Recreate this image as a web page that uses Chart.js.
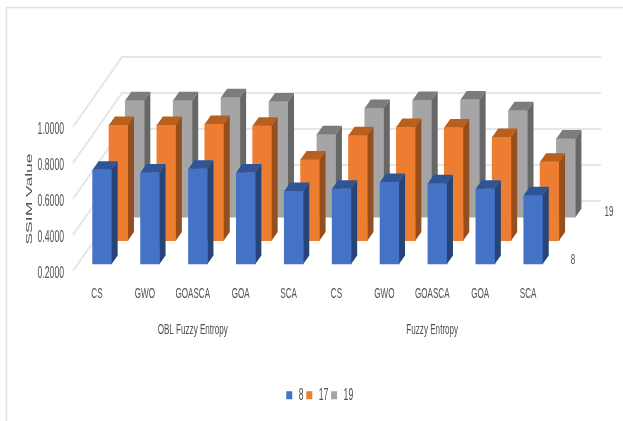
<!DOCTYPE html>
<html>
<head>
<meta charset="utf-8">
<style>
html, body { margin: 0; padding: 0; background: #fff; }
</style>
<script src="https://cdn.jsdelivr.net/npm/chart.js@4"></script>
</head>
<body>
<canvas id="chart" width="623" height="421"></canvas>
<script>
const categories = ['CS', 'GWO', 'GOASCA', 'GOA', 'SCA', 'CS', 'GWO', 'GOASCA', 'GOA', 'SCA'];
const groupLabels = ['', '', 'OBL Fuzzy Entropy', '', '', '', '', 'Fuzzy Entropy', '', ''];
const valueTicks = [0.2, 0.4, 0.6, 0.8, 1.0];

const series8 = [0.723, 0.708, 0.729, 0.708, 0.605, 0.618, 0.655, 0.648, 0.618, 0.581];
const series17 = [0.843, 0.843, 0.848, 0.839, 0.651, 0.786, 0.832, 0.828, 0.776, 0.638];
const series19 = [0.850, 0.850, 0.867, 0.843, 0.662, 0.808, 0.852, 0.854, 0.795, 0.638];

const TEXT = '#505050';
const FONT = '"Liberation Sans", sans-serif';
const SQUEEZE = 0.54;

// depth of one series row on the floor, and the size of a bar's own side
const ROW_DX = 16.33, ROW_DY = -23.33;
const BAR_DX = 6, BAR_DY = -8.5;
const FLOOR_DX = 5.2, FLOOR_DY = -7;

const canvas = document.getElementById('chart');
const context = canvas.getContext('2d');

// No condensed face is installed, so text is narrowed on the context itself.
// Chart.js then lays out ticks and legend with the narrowed widths.
const plainFillText = context.fillText.bind(context);
const plainMeasureText = context.measureText.bind(context);
context.fillText = function (text, x, y) {
    context.save();
    context.translate(x, y);
    context.scale(SQUEEZE, 1);
    plainFillText(text, 0, 0);
    context.restore();
};
context.measureText = function (text) {
    return { width: plainMeasureText(text).width * SQUEEZE };
};

function rowOffset(i) {
    return { x: FLOOR_DX + i * ROW_DX, y: FLOOR_DY + i * ROW_DY };
}

function polygon(ctx, pts, fill) {
    ctx.fillStyle = fill;
    ctx.beginPath();
    pts.forEach((p, i) => i ? ctx.lineTo(p[0], p[1]) : ctx.moveTo(p[0], p[1]));
    ctx.closePath();
    ctx.fill();
}

const bars3d = {
    id: 'bars3d',

    // legend sits centred under the bars, not under the layout box
    afterLayout(chart) {
        chart.legend.left = 18;
        chart.legend.right = 623;
    },

    // outer frame, only its top and left edges show
    beforeDraw(chart) {
        const ctx = chart.ctx;
        ctx.save();
        ctx.strokeStyle = '#e2e2e2';
        ctx.lineWidth = 1.5;
        ctx.beginPath();
        ctx.moveTo(6.5, 421);
        ctx.lineTo(6.5, 7.5);
        ctx.lineTo(623, 7.5);
        ctx.stroke();
        ctx.restore();
    },

    // back wall and side wall lines
    beforeDatasetsDraw(chart) {
        const { ctx, chartArea, scales } = chart;
        const wallX = ROW_DX * 3, wallY = ROW_DY * 3;
        ctx.save();
        ctx.strokeStyle = '#e6e6e6';
        ctx.lineWidth = 2;
        valueTicks.forEach(v => {
            const y = scales.y.getPixelForValue(v);
            ctx.beginPath();
            ctx.moveTo(chartArea.left, y);
            ctx.lineTo(chartArea.left + wallX, y + wallY);
            ctx.lineTo(chartArea.right + wallX, y + wallY);
            ctx.stroke();
        });
        ctx.restore();
    },

    // each row is pushed back along the floor
    beforeDatasetDraw(chart, args) {
        const off = rowOffset(args.index);
        chart.ctx.save();
        chart.ctx.translate(off.x, off.y);
    },

    // top and side faces of each bar in the row
    afterDatasetDraw(chart, args) {
        const ctx = chart.ctx;
        const ds = chart.data.datasets[args.index];
        args.meta.data.forEach(bar => {
            const l = bar.x - bar.width / 2, r = bar.x + bar.width / 2;
            polygon(ctx, [[l, bar.y], [r, bar.y], [r + BAR_DX, bar.y + BAR_DY], [l + BAR_DX, bar.y + BAR_DY]], ds.topColor);
            polygon(ctx, [[r, bar.y], [r + BAR_DX, bar.y + BAR_DY], [r + BAR_DX, bar.base + BAR_DY], [r, bar.base]], ds.sideColor);
        });
        ctx.restore();
    },

    afterDatasetsDraw(chart) {
        const { ctx, chartArea, scales } = chart;
        ctx.save();
        ctx.fillStyle = TEXT;
        ctx.textAlign = 'center';
        ctx.textBaseline = 'middle';

        // depth axis labels, only the first and last rows have one
        ctx.font = '15px ' + FONT;
        ctx.fillText(chart.data.datasets[0].label, chartArea.right + 21, scales.y.bottom - 11);
        ctx.fillText(chart.data.datasets[2].label, chartArea.right + 57, scales.y.bottom - 59);

        // value axis title, narrowed across its height because it is rotated
        ctx.translate(29, 199);
        ctx.rotate(-Math.PI / 2);
        ctx.scale(1, SQUEEZE);
        ctx.font = '17.5px ' + FONT;
        plainFillText('SSIM Value', 0, 0);
        ctx.restore();
    }
};

new Chart(canvas, {
    type: 'bar',
    plugins: [bars3d],
    data: {
        labels: categories,
        datasets: [
            { label: '8', data: series8, backgroundColor: '#4472c4', topColor: '#2f5597', sideColor: '#264478' },
            { label: '17', data: series17, backgroundColor: '#ed7d31', topColor: '#b9601f', sideColor: '#964f1c' },
            { label: '19', data: series19, backgroundColor: '#a5a5a5', topColor: '#7c7c7c', sideColor: '#676767' }
        ].map(ds => ({ ...ds, base: 0.2, grouped: false, barThickness: 19, borderWidth: 0, clip: false }))
    },
    options: {
        responsive: false,
        animation: false,
        layout: { autoPadding: false, padding: { left: 0, top: 127, right: 71, bottom: 7.8 } },
        plugins: {
            tooltip: { enabled: false },
            legend: {
                position: 'bottom',
                labels: {
                    // small box plus a thick border, keeps the text close to the swatch
                    boxWidth: 3,
                    boxHeight: 5,
                    padding: 4.2,
                    color: TEXT,
                    font: { family: FONT, size: 16 },
                    generateLabels(chart) {
                        return Chart.defaults.plugins.legend.labels.generateLabels(chart).map(item => ({
                            ...item,
                            strokeStyle: item.fillStyle,
                            lineWidth: 3
                        }));
                    }
                }
            }
        },
        scales: {
            x: {
                grid: { display: false, drawTicks: false },
                border: { display: false },
                ticks: { color: TEXT, padding: 14, autoSkip: false, maxRotation: 0, font: { family: FONT, size: 15 } },
                afterFit(scale) { scale.height = 36; }
            },
            groups: {
                type: 'category',
                position: 'bottom',
                labels: groupLabels,
                grid: { display: false, drawTicks: false },
                border: { display: false },
                ticks: { color: TEXT, padding: 14, autoSkip: false, maxRotation: 0, font: { family: FONT, size: 15 } },
                afterFit(scale) { scale.height = 76.1; }
            },
            y: {
                min: 0.2,
                max: 1.0,
                grid: { display: false, drawTicks: false },
                border: { display: false },
                ticks: {
                    stepSize: 0.2,
                    padding: 9,
                    labelOffset: 2.5,
                    color: TEXT,
                    font: { family: FONT, size: 16 },
                    callback: v => v.toFixed(4)
                },
                afterFit(scale) { scale.width = 73; }
            }
        }
    }
});
</script>
</body>
</html>
